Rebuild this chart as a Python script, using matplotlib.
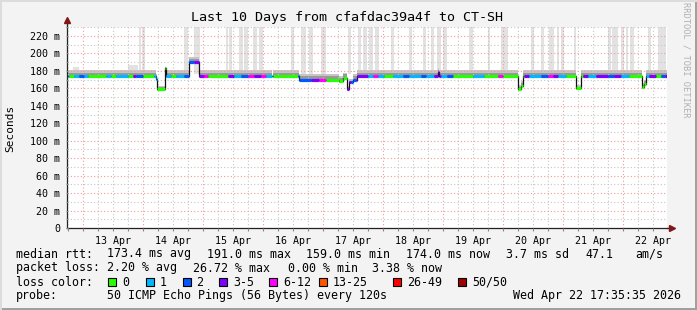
import numpy as np
import matplotlib
matplotlib.use("Agg")
import matplotlib.pyplot as plt
from matplotlib.patches import Rectangle
from matplotlib.ticker import MultipleLocator, FuncFormatter, NullFormatter

plt.rcParams['font.family'] = ['DejaVu Sans Mono']

# time in hours since 12 Apr 2026 00:00
t_start, t_end = 17.6, 257.6
day_labels = ["13 Apr", "14 Apr", "15 Apr", "16 Apr", "17 Apr",
              "18 Apr", "19 Apr", "20 Apr", "21 Apr", "22 Apr"]

# median rtt (ms), step values starting at each time
median_t = [18.0, 53.2, 53.6, 56.8, 57.2, 66.4, 70.4, 99.6, 100.0, 110.4,
            126.4, 128.0, 129.6, 130.4, 132.0, 133.6, 166.0, 166.4, 198.0, 199.2,
            200.0, 221.2, 223.2, 247.6, 248.4, 249.2]
median_ms = [174, 171, 159, 183, 174, 190.5, 174, np.nan, 174, 170,
             168, 172, 159, 167, 170, 174, 179, 174, 159, 163,
             174, 160, 174, 161, 165, 174]

# smoke (ping spread) around the median, same time steps
smoke_lo = [172, 169, 157, 180, 172, 188.5, 172, np.nan, 172, 168,
            166, 170, 157, 165, 168, 172, 176, 172, 157, 161,
            172, 158, 172, 159, 163, 172]
smoke_hi = [181, 176, 163, 185, 181, 196, 181, np.nan, 181, 176,
            174, 178, 163, 171, 176, 181, 183, 181, 164, 168,
            181, 164, 181, 166, 170, 181]
core_lo = [173, 170, 158, 182, 173, 189.5, 173, np.nan, 173, 169,
           167, 171, 158, 166, 169, 173, 177, 173, 158, 162,
           173, 159, 173, 160, 164, 173]
core_hi = [178, 174, 161, 184, 178, 194, 178, np.nan, 178, 174,
           172, 176, 161, 169, 174, 178, 181, 178, 162, 166,
           178, 162, 178, 164, 168, 178]

# occasional high pings (light grey columns)
spike_start = [20.0, 42.0, 46.4, 47.6, 64.4, 68.4, 81.2, 82.4, 86.4, 88.4,
               92.0, 94.4, 107.2, 111.2, 114.4, 119.2, 130.0, 134.0, 136.0, 138.4,
               140.8, 147.2, 154.4, 160.0, 163.2, 165.6, 168.0, 178.4, 186.0, 191.2,
               192.4, 203.2, 207.2, 210.4, 213.6, 215.2, 220.4, 234.0, 235.6, 239.2,
               241.2, 242.8, 250.0, 254.0]
spike_end = [22.4, 46.0, 47.2, 48.8, 66.0, 70.8, 82.0, 83.6, 88.0, 90.0,
             93.6, 96.0, 108.4, 113.2, 116.0, 121.2, 131.2, 135.2, 137.6, 140.0,
             142.4, 148.4, 155.6, 161.2, 164.4, 167.2, 169.6, 180.0, 186.8, 192.4,
             194.0, 204.4, 208.4, 212.4, 214.4, 216.4, 221.2, 235.2, 238.0, 240.4,
             242.0, 244.4, 251.2, 257.2]
spike_top = [185, 187, 240, 240, 240, 240, 240, 240, 240, 240,
             240, 240, 240, 240, 240, 240, 240, 240, 240, 240,
             240, 240, 240, 240, 240, 240, 240, 240, 240, 240,
             240, 240, 240, 240, 240, 240, 240, 240, 240, 240,
             240, 240, 240, 240]

# packet loss class of the median line, starting at each time
loss_t = [18.0, 18.4, 20.4, 22.4, 24.4, 26.0, 33.2, 35.2, 37.2, 42.0,
          44.0, 45.2, 48.0, 52.4, 53.6, 57.2, 59.2, 61.2, 64.4, 68.4,
          72.4, 74.0, 82.0, 84.4, 87.2, 90.0, 92.4, 95.2, 97.2, 100.0,
          110.0, 115.2, 118.4, 121.2, 129.6, 131.2, 133.2, 138.0, 140.0, 142.0,
          144.4, 148.0, 152.0, 154.4, 159.2, 161.2, 164.4, 167.2, 169.6, 172.0,
          180.0, 184.4, 190.0, 192.0, 200.4, 202.4, 207.2, 210.0, 212.0, 214.0,
          217.2, 224.0, 226.0, 229.2, 234.0, 236.4, 239.2, 242.4, 249.2, 250.4,
          253.2, 255.2, 256.8]
loss_class = [1, 0, 1, 2, 1, 0, 1, 0, 1, 0,
              3, 2, 0, 1, 0, 1, 0, 1, 2, 3,
              4, 0, 3, 1, 2, 4, 3, 4, 1, 0,
              2, 3, 4, 0, 3, 2, 3, 1, 4, 1,
              0, 1, 2, 1, 2, 1, 3, 1, 2, 0,
              1, 0, 4, 0, 3, 1, 2, 4, 3, 1,
              0, 3, 1, 3, 2, 3, 1, 0, 1, 3,
              0, 2, 3]
loss_colors = ["#26ff00", "#00b8ff", "#0059ff", "#7e00ff",
               "#ff00ff", "#ff5500", "#ff0000", "#a10000"]
loss_names = ["0", "1", "2", "3-5", "6-12", "13-25", "26-49", "50/50"]

W, H = 697, 310
fig = plt.figure(figsize=(W / 100, H / 100), dpi=100, facecolor="#f3f3f3")
ax = fig.add_axes([67 / W, (H - 228) / H, 600 / W, 201 / H])
ax.set_facecolor("white")

# smoke
ax.bar(spike_start, np.array(spike_top) - 177, bottom=177,
       width=np.array(spike_end) - np.array(spike_start), align="edge",
       color="#e2e2e2", lw=0, zorder=1)
seg_end = median_t[1:] + [t_end]
seg_w = np.array(seg_end) - np.array(median_t)
ax.bar(median_t, np.array(smoke_hi) - np.array(smoke_lo), bottom=smoke_lo,
       width=seg_w, align="edge", color="#c6c6c6", lw=0, zorder=1.2)
ax.bar(median_t, np.array(core_hi) - np.array(core_lo), bottom=core_lo,
       width=seg_w, align="edge", color="#999999", lw=0, zorder=1.3)

# median line: thin black step plus loss coloured segments
st = median_t + [t_end]
ax.step(st, median_ms + [median_ms[-1]], where="post", color="#111111",
        lw=0.9, zorder=3)
edges = sorted(set(median_t) | set(loss_t)) + [t_end]
for a, b in zip(edges[:-1], edges[1:]):
    v = median_ms[np.searchsorted(median_t, a, side="right") - 1]
    c = loss_class[np.searchsorted(loss_t, a, side="right") - 1]
    if np.isnan(v):
        continue
    ax.hlines(v, a, b, color=loss_colors[c], lw=2.3, zorder=4)

ax.set_xlim(t_start, t_end)
ax.set_ylim(0, 230.3)

# grid
ax.set_axisbelow(False)
ax.xaxis.set_major_locator(MultipleLocator(24))
ax.xaxis.set_minor_locator(MultipleLocator(6))
ax.yaxis.set_major_locator(MultipleLocator(20))
ax.yaxis.set_minor_locator(MultipleLocator(10))
ax.grid(which="major", color="#f49a9a", lw=0.8, linestyle=(0, (1, 2)))
ax.grid(which="minor", color="#c6c6c6", lw=0.8, linestyle=(0, (1, 2)))

ax.xaxis.set_major_formatter(NullFormatter())


def day_fmt(h, pos):
    k = int(round((h - 36) / 24))
    if abs(h - 36 - 24 * k) < 0.01 and 0 <= k < len(day_labels):
        return day_labels[k]
    return ""


ax.xaxis.set_minor_formatter(FuncFormatter(day_fmt))
ax.yaxis.set_major_formatter(FuncFormatter(lambda v, p: "0" if v == 0 else f"{int(v)} m"))
ax.tick_params(axis="x", which="both", length=2, width=0.8, color="#888888",
               labelsize=7.2, pad=4)
ax.tick_params(axis="y", which="both", length=2, width=0.8, color="#888888",
               direction="inout", labelsize=7.2, pad=4)

for s in ["top", "right"]:
    ax.spines[s].set_visible(False)
for s in ["left", "bottom"]:
    ax.spines[s].set_color("#222222")
    ax.spines[s].set_linewidth(0.9)

# axis arrows
ax.plot([0, 0], [1, 1.035], transform=ax.transAxes, color="#222222", lw=0.9, clip_on=False)
ax.plot([0], [1.035], marker="^", ms=5, color="#7f1717", transform=ax.transAxes, clip_on=False)
ax.plot([1, 1.009], [0, 0], transform=ax.transAxes, color="#222222", lw=0.9, clip_on=False)
ax.plot([1.009], [0], marker=">", ms=5, color="#7f1717", transform=ax.transAxes, clip_on=False)

# titles
fig.text(347 / W, 1 - 17 / H, "Last 10 Days from cfafdac39a4f to CT-SH",
         ha="center", va="center", fontsize=9.6)
fig.text(10 / W, 1 - 128 / H, "Seconds", rotation=90, ha="center", va="center", fontsize=8)
fig.text(686 / W, 1 - 60 / H, "RRDTOOL / TOBI OETIKER", rotation=270,
         ha="center", va="center", fontsize=6.3, color="#b0b0b0")

# legend rows
fs = 8.4


def row(y, items):
    for x, s in items:
        fig.text(x / W, 1 - y / H, s, ha="left", va="center", fontsize=fs)


row(254, [(16, "median rtt:"), (107, "173.4 ms avg"), (207, "191.0 ms max"),
          (306, "159.0 ms min"), (406, "174.0 ms now"), (506, "3.7 ms sd"),
          (585, "47.1"), (635, "am/s")])
row(268, [(16, "packet loss:"), (107, "2.20 % avg"), (193, "26.72 % max"),
          (288, "0.00 % min"), (372, "3.38 % now")])
row(282, [(16, "loss color:")])
box_x = [108, 145.5, 182.5, 219, 269, 319, 393, 458]
for bx, col, name in zip(box_x, loss_colors, loss_names):
    fig.patches.append(Rectangle((bx / W, 1 - 286 / H), 8 / W, 8 / H,
                                 transform=fig.transFigure, facecolor=col,
                                 edgecolor="black", lw=0.8))
    fig.text((bx + 14) / W, 1 - 282 / H, name, ha="left", va="center", fontsize=fs)
row(296, [(16, "probe:"), (107, "50 ICMP Echo Pings (56 Bytes) every 120s"),
          (513, "Wed Apr 22 17:35:35 2026")])

# 3d frame
fig.patches.append(Rectangle((0, 0), 1, 2 / H, transform=fig.transFigure,
                             facecolor="#a0a0a0", lw=0))
fig.patches.append(Rectangle((1 - 2 / W, 0), 2 / W, 1, transform=fig.transFigure,
                             facecolor="#a0a0a0", lw=0))
fig.patches.append(Rectangle((0, 1 - 2 / H), 1, 2 / H, transform=fig.transFigure,
                             facecolor="#dcdcdc", lw=0))
fig.patches.append(Rectangle((0, 0), 2 / W, 1, transform=fig.transFigure,
                             facecolor="#dcdcdc", lw=0))

fig.savefig("out.png", dpi=100, facecolor=fig.get_facecolor())
